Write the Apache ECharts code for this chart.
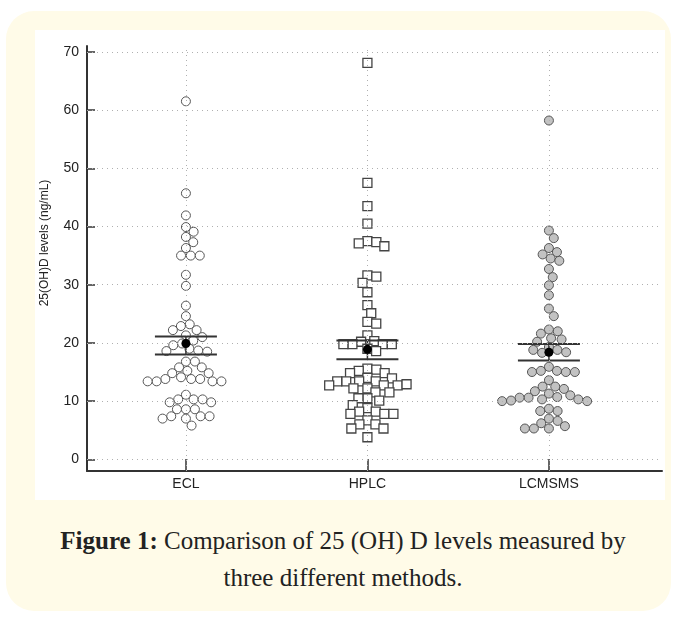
<!DOCTYPE html>
<html>
<head>
<meta charset="utf-8">
<script src="https://cdn.jsdelivr.net/npm/echarts@6/dist/echarts.min.js"></script>
<style>
  html, body { margin: 0; padding: 0; background: #ffffff; width: 676px; height: 617px; overflow: hidden; }
  #outer { position: absolute; left: 6px; top: 11px; width: 665px; height: 600px; background: #fffbe8; border-radius: 28px; }
  #chart { position: absolute; left: 35px; top: 30px; width: 630px; height: 470px; background: #ffffff; }
  #caption { position: absolute; left: 0; width: 686px; top: 522px; text-align: center;
             font-family: "Liberation Serif", "DejaVu Serif", serif; font-size: 25px; line-height: 37px; color: #222; }
  #caption b { font-weight: bold; }
</style>
</head>
<body>
<div id="outer"></div>
<div id="chart"></div>
<div id="caption"><b>Figure 1:</b> Comparison of 25 (OH) D levels measured by<br>three different methods.</div>
<script>
// ---- data ----
const categories = ['ECL', 'HPLC', 'LCMSMS'];
const yTicks = [0, 10, 20, 30, 40, 50, 60, 70];
const ecl = [61.5, 45.7, 41.9, 39.9, 39.1, 38.2, 37.3, 36.3, 35.0, 35.0, 35.0, 31.7, 29.8, 26.4, 24.6,
  23.2, 22.9, 22.2, 22.2, 21.3, 21.0, 20.4, 19.9, 19.6, 19.0, 18.7, 18.6, 18.5, 16.8, 16.8, 15.8, 15.8,
  15.2, 14.8, 14.8, 14.1, 13.8, 13.8, 13.8, 13.4, 13.4, 13.4, 13.4, 11.1, 10.3, 10.3, 10.3, 9.8, 9.8,
  8.6, 8.6, 8.6, 7.4, 7.4, 7.4, 7.0, 7.0, 5.8];
const hplc = [68.1, 47.5, 43.5, 40.5, 37.5, 37.3, 37.1, 36.6, 31.6, 31.4, 30.3, 28.7, 26.5, 25.1, 23.6,
  23.3, 21.3, 20.3, 20.2, 19.8, 19.8, 19.8, 19.8, 19.0, 18.6, 15.6, 15.4, 15.2, 14.8, 14.8, 14.0, 13.9,
  13.4, 13.4, 13.4, 13.4, 12.7, 12.7, 12.7, 12.9, 12.2, 12.2, 11.5, 11.5, 10.5, 10.5, 10.1, 9.3, 8.8,
  8.2, 8.2, 7.8, 7.8, 7.8, 6.7, 6.0, 6.0, 5.3, 5.3, 3.8];
const lcmsms = [58.2, 39.3, 38.0, 36.3, 35.6, 35.2, 34.5, 34.1, 32.7, 31.3, 29.9, 28.2, 25.9, 24.6, 22.3,
  22.0, 21.6, 20.8, 20.6, 20.2, 19.3, 18.8, 18.8, 18.4, 18.3, 15.9, 15.2, 15.2, 15.0, 15.0, 15.0, 13.6,
  12.5, 12.5, 12.1, 11.7, 11.3, 11.0, 10.7, 10.6, 10.6, 10.3, 10.3, 10.1, 10.0, 10.0, 8.7, 8.3, 8.3,
  7.0, 6.6, 6.2, 5.7, 5.3, 5.3, 5.3];
const means = [19.9, 18.9, 18.4];
const ciLow = [18.0, 17.2, 17.0];
const ciHigh = [21.1, 20.4, 19.8];

const chart = echarts.init(document.getElementById('chart'), null, { renderer: 'canvas' });
const axisFont = '"Liberation Sans", Arial, sans-serif';
const gridLine = { color: '#b0b0b0', width: 1, type: [1, 4] };

const baseOption = {
  animation: false,
  grid: { left: 52, right: 3, top: 16, bottom: 29, containLabel: false },
  xAxis: {
    type: 'value', min: 0.455, max: 3.623,
    axisLine: { show: true, onZero: false, lineStyle: { color: '#333', width: 2 } },
    axisTick: { show: true, inside: true, length: 12, customValues: [1, 2, 3], lineStyle: { color: '#333', width: 1.5 } },
    axisLabel: { customValues: [1, 2, 3], formatter: v => categories[Math.round(v) - 1] || '',
      color: '#222', fontFamily: axisFont, fontSize: 14, margin: 6 },
    splitLine: { show: false }
  },
  yAxis: {
    type: 'value', min: -2, max: 71,
    axisLine: { show: true, onZero: false, lineStyle: { color: '#333', width: 2 } },
    axisTick: { show: true, inside: true, length: 8, customValues: yTicks, lineStyle: { color: '#333', width: 1.5 } },
    axisLabel: { customValues: yTicks, color: '#222', fontFamily: axisFont, fontSize: 14, margin: 8 },
    splitLine: { show: false }
  },
  graphic: [{
    type: 'text', x: 10, y: 213, rotation: Math.PI / 2,
    style: { text: '25(OH)D levels (ng/mL)', fill: '#222', font: '12px ' + axisFont, align: 'center', verticalAlign: 'middle' }
  }],
  series: []
};
chart.setOption(baseOption);

// beeswarm layout computed with the chart's own scales
const D = 9;
const pxPerX = chart.convertToPixel({ xAxisIndex: 0 }, 2) - chart.convertToPixel({ xAxisIndex: 0 }, 1);
function swarm(values, cat) {
  const placed = [];
  values.forEach(v => {
    const y = chart.convertToPixel({ yAxisIndex: 0 }, v);
    const cands = [0];
    placed.forEach(q => {
      const dy = Math.abs(q.y - y);
      if (dy < D) { const o = Math.sqrt(D * D - dy * dy); cands.push(q.x + o, q.x - o); }
    });
    cands.sort((a, b) => Math.abs(a) - Math.abs(b) || b - a);
    let x = 0;
    for (const c of cands) {
      if (placed.every(q => (q.x - c) ** 2 + (q.y - y) ** 2 >= D * D - 1e-6)) { x = c; break; }
    }
    placed.push({ x, y, v });
  });
  return placed.map(p => [cat + p.x / pxPerX, p.v]);
}

const gridMarks = yTicks.map(v => ({ yAxis: v })).concat([1, 2, 3].map(c => ({ xAxis: c })));

chart.setOption({
  series: [
    { type: 'scatter', name: 'grid', data: [], z: 1, silent: true,
      markLine: { silent: true, symbol: ['none', 'none'], label: { show: false }, lineStyle: gridLine, data: gridMarks, animation: false } },
    { type: 'scatter', name: 'ECL', data: swarm(ecl, 1), symbol: 'circle', symbolSize: 9, z: 3,
      itemStyle: { color: '#ffffff', borderColor: '#555', borderWidth: 1, opacity: 1 } },
    { type: 'scatter', name: 'HPLC', data: swarm(hplc, 2), symbol: 'rect', symbolSize: 9, z: 3,
      itemStyle: { color: '#ffffff', borderColor: '#444', borderWidth: 1.3, opacity: 1 } },
    { type: 'scatter', name: 'LCMSMS', data: swarm(lcmsms, 3), symbol: 'circle', symbolSize: 9, z: 3,
      itemStyle: { color: '#c2c2c2', borderColor: '#555', borderWidth: 1, opacity: 1 } },
    { type: 'custom', name: 'ci', z: 4, silent: true,
      data: categories.map((c, i) => [i + 1, ciLow[i], ciHigh[i]]),
      renderItem: (params, api) => {
        const lo = api.coord([api.value(0), api.value(1)]);
        const hi = api.coord([api.value(0), api.value(2)]);
        const st = { stroke: '#333', lineWidth: 2 };
        return { type: 'group', children: [
          { type: 'line', shape: { x1: hi[0] - 31, y1: hi[1], x2: hi[0] + 31, y2: hi[1] }, style: st },
          { type: 'line', shape: { x1: lo[0] - 31, y1: lo[1], x2: lo[0] + 31, y2: lo[1] }, style: st },
          { type: 'line', shape: { x1: hi[0], y1: hi[1], x2: lo[0], y2: lo[1] }, style: { stroke: '#333', lineWidth: 1.5 } }
        ] };
      } },
    { type: 'scatter', name: 'mean', z: 5, silent: true, data: means.map((m, i) => [i + 1, m]),
      symbol: 'circle', symbolSize: 9, itemStyle: { color: '#000', opacity: 1 } }
  ]
});
</script>
</body>
</html>
